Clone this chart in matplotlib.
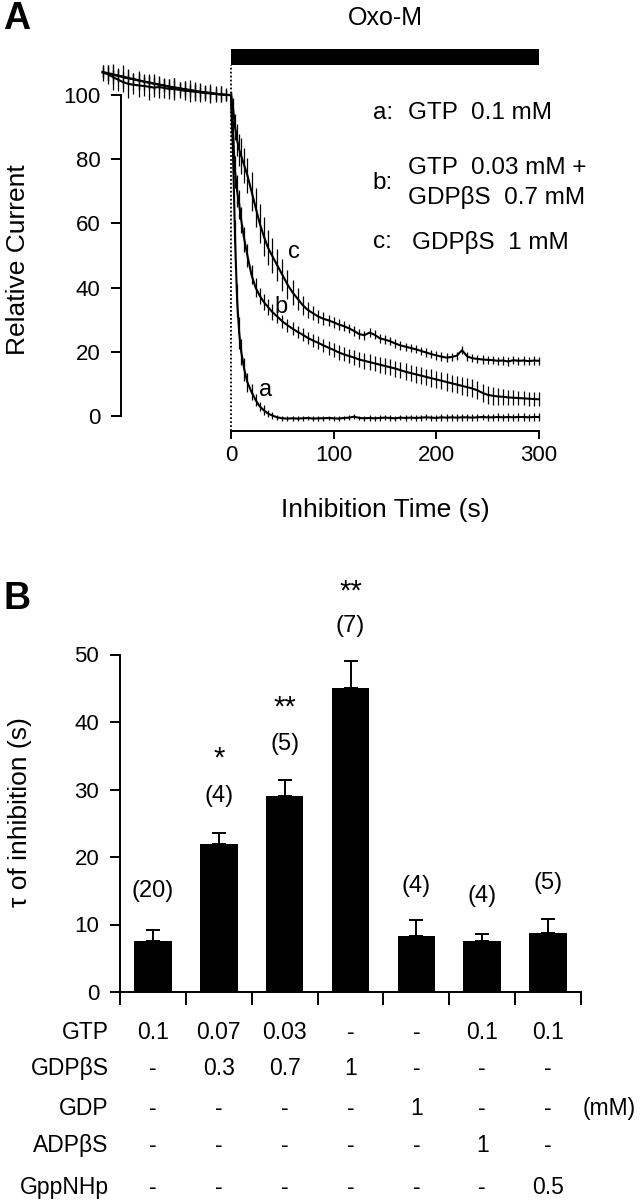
import numpy as np
import matplotlib.pyplot as plt
from matplotlib.patches import Rectangle

plt.rcParams['font.family'] = ['Liberation Sans', 'DejaVu Sans']
plt.rcParams['font.size'] = 16

# ---------------- panel A data (relative current, %) ----------------
t_pre = list(range(-125, 0, 5))
t_post = [0, 2, 4, 6, 8, 10, 13, 16, 20, 24, 28, 32, 36, 40] + list(range(45, 301, 5))

a_pre = [107.2, 106.8, 106.5, 106.0, 105.8, 105.3, 105.0, 104.6, 104.2, 104.0, 103.6, 103.2, 103.0,
         102.6, 102.3, 102.0, 101.8, 101.5, 101.2, 101.0, 100.8, 100.6, 100.4, 100.2, 100.1]
b_pre = [107.0, 106.5, 105.6, 104.8, 104.0, 103.5, 103.2, 103.0, 102.8, 102.6, 102.3, 102.5, 102.2,
         101.9, 101.8, 101.6, 101.3, 101.2, 101.0, 100.8, 100.6, 100.5, 100.3, 100.2, 100.0]
c_pre = [107.1, 106.7, 106.3, 106.0, 105.5, 105.2, 104.9, 104.5, 104.2, 103.8, 103.5, 103.3, 102.9,
         102.6, 102.4, 102.1, 101.8, 101.6, 101.3, 101.0, 100.9, 100.6, 100.4, 100.2, 100.0]

a_post = [100, 82, 55, 36, 26, 20, 14.5, 10.5, 7.5, 5.0, 3.0, 1.8, 0.8, 0.2,
          -0.4, -0.7, -0.8, -0.7, -0.8, -0.7, -0.6, -0.8, -0.7, -0.7, -0.6, -0.7, -0.8, -0.6,
          -0.5, -0.2, -0.6, -0.7, -0.6, -0.7, -0.6, -0.5, -0.6, -0.7, -0.5, -0.6, -0.5, -0.6,
          -0.5, -0.4, -0.5, -0.6, -0.4, -0.5, -0.4, -0.5, -0.4, -0.4, -0.5, -0.4, -0.3, -0.4,
          -0.4, -0.3, -0.4, -0.3, -0.4, -0.3, -0.3, -0.4, -0.3, -0.3]
b_post = [100, 88, 76, 70, 66, 61, 55, 50, 44, 40, 37.5, 35.5, 34, 32.5,
          31.0, 29.5, 28.3, 27.2, 26.2, 25.3, 24.3, 23.5, 22.8, 22.0, 21.3, 20.6, 19.8, 19.2,
          18.7, 18.2, 17.6, 17.2, 16.8, 16.4, 16.0, 15.6, 15.2, 14.8, 14.3, 13.8, 13.4, 13.0,
          12.6, 12.2, 11.8, 11.4, 11.0, 10.6, 10.2, 9.8, 9.4, 9.0, 8.6, 8.0, 7.2, 6.6,
          6.3, 6.1, 6.0, 5.8, 5.7, 5.6, 5.5, 5.4, 5.3, 5.2]
c_post = [100, 96, 90, 86, 83, 81, 78, 75, 70, 65, 60, 56, 52.5, 50,
          47.0, 44.0, 41.0, 38.5, 36.5, 34.5, 33.0, 32.0, 31.0, 30.3, 29.8, 29.2, 28.5, 28.0,
          27.3, 26.5, 25.5, 25.2, 26.0, 25.3, 24.2, 23.8, 23.3, 22.6, 22.0, 21.6, 21.2, 20.8,
          20.3, 19.8, 19.3, 18.9, 18.5, 18.2, 18.4, 18.8, 20.5, 18.6, 18.0, 17.8, 17.6, 17.5,
          17.4, 17.2, 17.3, 17.0, 17.4, 17.2, 17.3, 17.1, 17.3, 17.2]

a_err_pre = [2.0, 2.5, 3.0, 2.0, 3.5, 2.5, 2.0, 3.0, 2.5, 2.0, 3.0, 2.5, 2.0,
             2.5, 3.0, 2.0, 2.5, 2.0, 3.0, 2.5, 2.0, 2.5, 2.0, 2.5, 2.0]
b_err_pre = [2.5, 3.0, 4.0, 3.5, 3.0, 4.5, 3.0, 3.5, 3.0, 4.0, 3.0, 3.5, 3.0,
             3.0, 3.5, 2.5, 3.0, 3.5, 2.5, 3.0, 2.5, 3.0, 2.5, 2.5, 2.0]
c_err_pre = [1.5, 2.0, 1.5, 2.0, 2.0, 1.5, 2.0, 2.5, 1.5, 2.0, 2.0, 1.5, 2.0,
             1.5, 2.0, 1.5, 2.0, 1.5, 2.0, 1.5, 2.0, 1.5, 1.5, 1.5, 1.5]
a_err_post = [1, 5, 6, 5, 5, 4, 3.5, 3, 2.5, 2, 1.5, 1.5, 1, 1,
              0.8, 0.8, 0.7, 0.7, 0.7, 0.7, 0.7, 0.7, 0.7, 0.7, 0.7, 0.7, 0.7, 0.7,
              0.7, 0.7, 0.7, 0.8, 0.8, 0.8, 0.8, 0.8, 0.8, 0.8, 0.8, 0.8, 0.8, 0.9,
              0.9, 0.9, 0.9, 0.9, 1.0, 1.0, 1.0, 1.0, 1.0, 1.0, 1.0, 1.0, 1.0, 1.1,
              1.1, 1.1, 1.1, 1.1, 1.1, 1.1, 1.1, 1.1, 1.1, 1.1]
b_err_post = [1, 4, 5, 5, 4.5, 4, 4, 3.5, 3, 3, 2.5, 2.5, 2.5, 2.5,
              2.0, 2.0, 2.0, 2.0, 2.0, 2.0, 2.0, 2.0, 2.0, 2.0, 2.2, 2.2, 2.2, 2.2,
              2.3, 2.3, 2.3, 2.4, 2.4, 2.4, 2.5, 2.5, 2.5, 2.5, 2.5, 2.6, 2.6, 2.6,
              2.6, 2.6, 2.7, 2.7, 2.7, 2.7, 2.7, 2.7, 2.8, 2.8, 2.8, 2.8, 2.8, 2.8,
              2.8, 2.6, 2.5, 2.4, 2.3, 2.2, 2.2, 2.2, 2.2, 2.2]
c_err_post = [1, 3, 4, 5, 5, 5.5, 5.5, 5.5, 6, 6, 6, 6, 5.5, 5.5,
              5.0, 5.0, 4.5, 4.0, 3.5, 3.0, 2.5, 2.2, 2.0, 2.0, 1.8, 1.8, 1.6, 1.6,
              1.5, 1.5, 1.5, 1.4, 1.4, 1.4, 1.4, 1.3, 1.3, 1.3, 1.3, 1.3, 1.3, 1.3,
              1.3, 1.3, 1.3, 1.3, 1.3, 1.3, 1.3, 1.3, 1.3, 1.3, 1.3, 1.3, 1.3, 1.3,
              1.3, 1.3, 1.3, 1.3, 1.3, 1.3, 1.3, 1.3, 1.3, 1.3]

curve_labels = ['a', 'b', 'c']
curve_label_pos = [(34, 8), (49, 34), (61, 51)]

# ---------------- panel B data ----------------
tau = [7.6, 22.0, 29.0, 45.0, 8.3, 7.6, 8.8]
tau_err = [1.55, 1.6, 2.4, 4.0, 2.4, 1.0, 2.0]
n_cells = ['(20)', '(4)', '(5)', '(7)', '(4)', '(4)', '(5)']
n_pos = [14.9, 29.0, 36.7, 54.2, 15.7, 14.2, 16.1]
stars = ['', '*', '**', '**', '', '', '']
star_pos = [0, 34.6, 42.2, 59.3, 0, 0, 0]

row_names = ['GTP', 'GDPβS', 'GDP', 'ADPβS', 'GppNHp']
row_vals = [
    ['0.1', '0.07', '0.03', '-', '-', '0.1', '0.1'],
    ['-', '0.3', '0.7', '1', '-', '-', '-'],
    ['-', '-', '-', '-', '1', '-', '-'],
    ['-', '-', '-', '-', '-', '1', '-'],
    ['-', '-', '-', '-', '-', '-', '0.5'],
]
row_y = [-6.0, -11.4, -17.3, -22.8, -29.0]

W, H = 640, 1200
fig = plt.figure(figsize=(6.4, 12), dpi=100)

# ================= Panel A =================
# pixel box of axes: x 60..600, y 0..530
axA = fig.add_axes([60 / W, 1 - 530 / H, 540 / W, 530 / H])
axA.set_xlim(-166.5, 359.4)
axA.set_ylim(-35.5, 129.6)
axA.patch.set_alpha(0)

series = [(a_pre + a_post, a_err_pre + a_err_post),
          (b_pre + b_post, b_err_pre + b_err_post),
          (c_pre + c_post, c_err_pre + c_err_post)]
t_all = t_pre + t_post
for vals, errs in series:
    axA.errorbar(t_all, vals, yerr=errs, color='black', lw=1.5, elinewidth=0.9,
                 capsize=0, zorder=3)

for lab, (x, y) in zip(curve_labels, curve_label_pos):
    axA.text(x, y, lab, fontsize=17, ha='center', va='center')

# Oxo-M application bar and onset line
axA.add_patch(Rectangle((0, 109.5), 300, 4.8, color='black', lw=0))
axA.text(150, 124, 'Oxo-M', fontsize=18, ha='center', va='center')
axA.plot([0, 0], [-4.7, 109.5], color='black', lw=1.3, ls=(0, (1, 1.2)))

# legend text
fs_leg = 17.5
axA.text(138, 94.4, 'a:', fontsize=fs_leg, ha='left', va='center')
axA.text(172, 94.4, 'GTP  0.1 mM', fontsize=fs_leg, ha='left', va='center')
axA.text(138, 72.6, 'b:', fontsize=fs_leg, ha='left', va='center')
axA.text(172, 77.4, 'GTP  0.03 mM +', fontsize=fs_leg, ha='left', va='center')
axA.text(172, 68.2, 'GDPβS  0.7 mM', fontsize=fs_leg, ha='left', va='center')
axA.text(138, 54.2, 'c:', fontsize=fs_leg, ha='left', va='center')
axA.text(176, 54.2, 'GDPβS  1 mM', fontsize=fs_leg, ha='left', va='center')

for s in ['top', 'right']:
    axA.spines[s].set_visible(False)
axA.spines['left'].set_position(('data', -107))
axA.spines['left'].set_bounds(0, 100)
axA.spines['bottom'].set_position(('data', -4.7))
axA.spines['bottom'].set_bounds(0, 300)
for s in ['left', 'bottom']:
    axA.spines[s].set_linewidth(1.4)
axA.set_yticks([0, 20, 40, 60, 80, 100])
axA.set_xticks([0, 100, 200, 300])
axA.tick_params(axis='both', direction='out', width=1.4, labelsize=16)
axA.tick_params(axis='y', length=7, pad=8)
axA.tick_params(axis='x', length=6, pad=4)
axA.text(-207, 48.6, 'Relative Current', rotation=90, fontsize=19,
         ha='center', va='center', clip_on=False)
axA.text(150, -29.3, 'Inhibition Time (s)', fontsize=19, ha='center', va='center')

# ================= Panel B =================
# pixel box: x 120..581 (0..7), y 992 (0) upward 6.75 px / unit
y0 = 992
top = y0 - 52 * 6.75
axB = fig.add_axes([120 / W, 1 - y0 / H, 461 / W, (y0 - top) / H])
axB.set_xlim(0, 7)
axB.set_ylim(0, 52)
axB.patch.set_alpha(0)

xpos = np.arange(len(tau)) + 0.5
axB.bar(xpos, tau, width=0.57, color='black', zorder=2)
axB.errorbar(xpos, tau, yerr=[np.zeros(len(tau)), tau_err], fmt='none',
             ecolor='black', elinewidth=1.4, capsize=5, capthick=1.4, zorder=1)

for x, n, ny, st, sy in zip(xpos, n_cells, n_pos, stars, star_pos):
    axB.text(x, ny, n, fontsize=17, ha='center', va='center', clip_on=False)
    if st:
        axB.text(x, sy, st, fontsize=21, ha='center', va='center', clip_on=False)

for s in ['top', 'right']:
    axB.spines[s].set_visible(False)
for s in ['left', 'bottom']:
    axB.spines[s].set_linewidth(1.4)
axB.spines['left'].set_bounds(0, 50)
axB.set_yticks([0, 10, 20, 30, 40, 50])
axB.set_xticks(range(8))
axB.set_xticklabels([])
axB.tick_params(axis='both', direction='out', width=1.4, labelsize=16)
axB.tick_params(axis='y', length=7, pad=8)
axB.tick_params(axis='x', length=9)
axB.text(-1.52, 26.7, 'τ of inhibition (s)', rotation=90, fontsize=19,
         ha='center', va='center', clip_on=False)

for name, vals, ry in zip(row_names, row_vals, row_y):
    axB.text(-0.17, ry, name, fontsize=16.5, ha='right', va='center', clip_on=False)
    for x, v in zip(xpos, vals):
        axB.text(x, ry, v, fontsize=16.5, ha='center', va='center', clip_on=False)
axB.text(7.03, row_y[2], '(mM)', fontsize=16.5, ha='left', va='center', clip_on=False)

# panel letters
fig.text(3 / W, 1 - 19 / H, 'A', fontsize=27, fontweight='bold', va='center')
fig.text(3 / W, 1 - 599 / H, 'B', fontsize=27, fontweight='bold', va='center')

fig.savefig('out.png', dpi=100)
